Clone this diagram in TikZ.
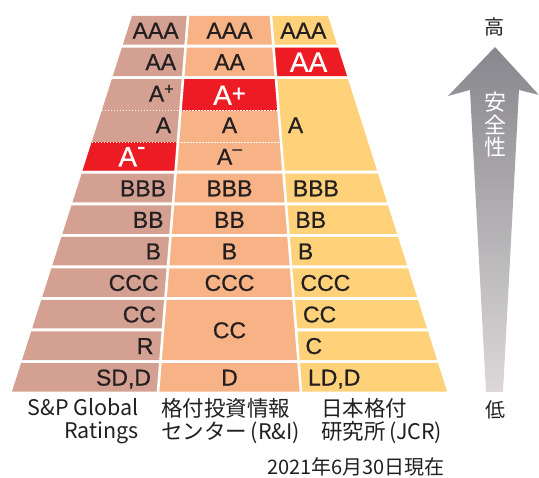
\documentclass[tikz,border=0pt]{standalone}
\usepackage{fontspec}
\setmainfont{Liberation Sans}
\newfontfamily\gradefont{Liberation Sans}[FakeBold=0.6]
\newfontfamily\jpfont{Noto Sans CJK JP}
\usetikzlibrary{calc}
\definecolor{spcol}{RGB}{212,160,145}
\definecolor{ricol}{RGB}{247,179,133}
\definecolor{jcrcol}{RGB}{255,210,122}
\definecolor{hired}{RGB}{237,28,36}
\definecolor{txt}{RGB}{35,31,32}
\definecolor{arrowtop}{RGB}{136,135,141}
\definecolor{arrowbot}{RGB}{220,216,216}
\newcommand{\gplus}{\raisebox{0.32em}{\scalebox{0.7}{+}}}
\newcommand{\gminus}{\raisebox{0.45em}{\scalebox{0.75}{–}}}
% one coloured cell between two slanted edges, from fraction #3 to #4
\newcommand{\ratingcell}[5]{%
	\fill[#5] ($(#10)!{#3}!(#11)$) -- ($(#20)!{#3}!(#21)$) -- ($(#20)!{#4}!(#21)$) -- ($(#10)!{#4}!(#11)$) -- cycle;}

\begin{document}
\begin{tikzpicture}[x=1pt, y=-1pt,
	% Styles
	grade/.style = {font=\gradefont\fontsize{23}{23}\selectfont, text=txt, inner sep=0pt, text height=16.5pt, text depth=0pt},
	red grade/.style = {grade, font=\gradefont\fontsize{28}{28}\selectfont, text=white, text height=20pt},
	colname/.style = {font=\jpfont\fontsize{21.5}{23}\selectfont, text=txt, inner sep=0pt},
	dotline/.style = {white, line width=1.1pt, dash pattern=on 1.6pt off 1.4pt},
	divider/.style = {white, line width=2.6pt}
	]
	\useasboundingbox (0,0) rectangle (539,478);
	
	% Edges of the table
	\coordinate (L0) at (132,16);  \coordinate (L1) at (11,394.6);
	\coordinate (D0) at (188,16);  \coordinate (D1) at (157.8,394.6);
	\coordinate (E0) at (271,16);  \coordinate (E1) at (301.2,394.6);
	\coordinate (R0) at (328,16);  \coordinate (R1) at (448,394.6);
	\coordinate (N0) at ($(L0)!.5!(D0)$); \coordinate (N1) at ($(L1)!.5!(D1)$);
	\coordinate (M0) at ($(D0)!.5!(E0)$); \coordinate (M1) at ($(D1)!.5!(E1)$);
	\coordinate (P0) at ($(E0)!.5!(R0)$); \coordinate (P1) at ($(E1)!.5!(R1)$);
	
	% S&P column
	\foreach \first/\last in {0/0,1/1,2/4,5/5,6/6,7/7,8/8,9/9,10/10,11/11}
		\ratingcell{L}{D}{\first/12}{(\last+1)/12-0.008}{spcol};
	\ratingcell{L}{D}{4/12}{5/12-0.008}{hired}
	% R&I column
	\foreach \first/\last in {0/0,1/1,2/4,5/5,6/6,7/7,8/8,9/10,11/11}
		\ratingcell{D}{E}{\first/12}{(\last+1)/12-0.008}{ricol};
	\ratingcell{D}{E}{2/12}{3/12}{hired}
	% JCR column
	\foreach \first/\last in {0/0,1/1,2/4,5/5,6/6,7/7,8/8,9/9,10/10,11/11}
		\ratingcell{E}{R}{\first/12}{(\last+1)/12-0.008}{jcrcol};
	\ratingcell{E}{R}{1/12}{2/12-0.008}{hired}
	
	% dotted steps inside the A range
	\foreach \t in {3,4} {
		\draw[dotline] ($(L0)!{\t/12}!(L1)$) -- ($(D0)!{\t/12}!(D1)$);
		\draw[dotline] ($(D0)!{\t/12}!(D1)$) -- ($(E0)!{\t/12}!(E1)$);
	}
	\draw[divider] (D0) -- (D1);
	\draw[divider] (E0) -- (E1);
	
	% Grades
	\foreach \i/\txt in {0/AAA,1/AA,2/A\gplus,3/A,5/BBB,6/BB,7/B,8/CCC,9/CC,10/R,11/{SD,D}}
		\node[grade, anchor=east] (sp\i) at ($(D0)!{(\i+0.5)/12-0.004}!(D1)+(-8,0)$) {\txt};
	\node[red grade] (sp4) at ($(N0)!{4.5/12-0.004}!(N1)$) {A\raisebox{0.42em}{\scalebox{0.9}{-}}};
	
	\foreach \i/\txt in {0/AAA,1/AA,3/A,4/A\gminus,5/BBB,6/BB,7/B,8/CCC,11/D}
		\node[grade] (ri\i) at ($(M0)!{(\i+0.5)/12-0.004}!(M1)$) {\txt};
	\node[red grade] (ri2) at ($(M0)!{2.5/12}!(M1)$) {A\raisebox{0.12em}{\scalebox{0.85}{+}}};
	\node[grade] (ri9) at ($(M0)!{10/12-0.004}!(M1)$) {CC};
	
	\foreach \i/\txt in {0/AAA,3/A,5/BBB,6/BB,7/B,8/CCC,9/CC,10/C,11/{LD,D}}
		\node[grade, anchor=west] (jcr\i) at ($(E0)!{(\i+0.5)/12-0.004}!(E1)+(8,0)$) {\txt};
	\node[red grade] (jcr1) at ($(P0)!{1.5/12-0.004}!(P1)$) {AA};
	
	% Agency names
	\node[colname, anchor=north east, align=right] (spname) at (139,398) {S\&P Global\\Ratings};
	\node[colname, anchor=north west, align=left] (riname) at (161,398) {格付投資情報\\センター\,(R\&I)};
	\node[colname, anchor=north west, align=left] (jcrname) at (321,398) {日本格付\\研究所\,(JCR)};
	\node[colname, anchor=west, font=\jpfont\fontsize{20}{20}\selectfont] (date) at (267,466.5) {2021年6月30日現在};
	
	% Safety arrow
	\shade[top color=arrowtop, bottom color=arrowbot]
		(495,47) -- (539,95) -- (519,90) -- (503,392) -- (486,392) -- (470,90) -- (448,96) -- cycle;
	\node[colname, font=\jpfont\fontsize{20}{20}\selectfont] (high) at (494,27) {高};
	\node[colname, font=\jpfont\fontsize{20}{20}\selectfont] (low) at (495,410) {低};
	\node[colname, text=white, align=center, font=\jpfont\fontsize{22}{22.5}\selectfont] (safety) at (495,125) {安\\全\\性};
\end{tikzpicture}
\end{document}
